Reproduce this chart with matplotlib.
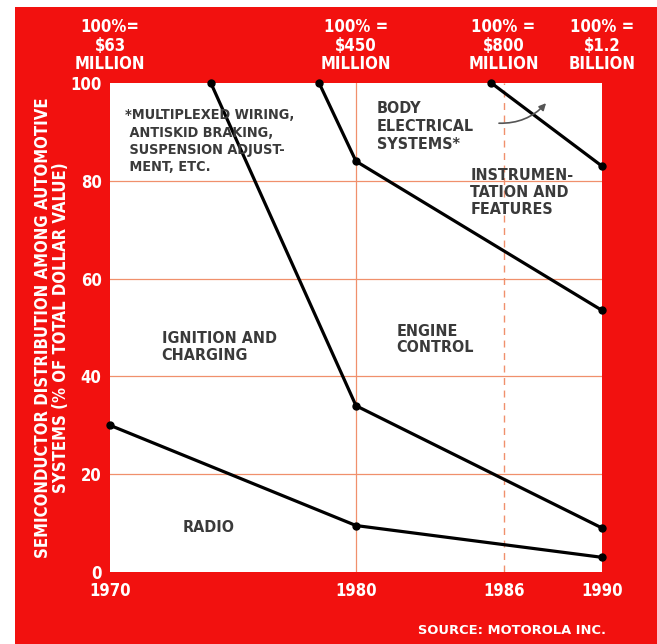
import matplotlib
matplotlib.use("Agg")
from matplotlib import pyplot as plt
from matplotlib.patches import Rectangle

# series values (year, % of total)
radio_years = [1970, 1980, 1990]
radio_pct = [30, 9.5, 3]
ignition_years = [1974.1, 1980, 1990]
ignition_pct = [100, 34, 9]
engine_years = [1978.5, 1980, 1990]
engine_pct = [100, 84, 53.5]
body_years = [1985.5, 1990]
body_pct = [100, 83]

x_ticks = [1970, 1980, 1986, 1990]
y_ticks = [0, 20, 40, 60, 80, 100]
market_years = [1970, 1980, 1986, 1990]
market_labels = ["100%=\n$63\nMILLION", "100% =\n$450\nMILLION",
                 "100% =\n$800\nMILLION", "100% =\n$1.2\nBILLION"]

RED = "#f2110f"
GRID = "#f0906c"
INK = "#3a3a3a"
plt.rcParams["font.family"] = ["DejaVu Sans"]
plt.rcParams["font.stretch"] = "condensed"

fig = plt.figure(figsize=(6.57, 6.44), dpi=100)
fig.patch.set_facecolor("white")
fig.add_artist(Rectangle((15 / 657, 0), 1, 1 - 7 / 644, transform=fig.transFigure,
                         facecolor=RED, edgecolor="none", zorder=0))

ax = fig.add_axes([110 / 657, 72 / 644, 492 / 657, 489 / 644])
ax.set_facecolor("white")
ax.set_xlim(1970, 1990)
ax.set_ylim(0, 100)
for s in ax.spines.values():
    s.set_visible(False)

for y in y_ticks[1:-1]:
    ax.axhline(y, color=GRID, lw=0.9, zorder=1)
ax.axvline(1980, color=GRID, lw=0.9, zorder=1)
ax.axvline(1986, color=GRID, lw=1.0, ls=(0, (5, 4)), zorder=1)

for xs, ys in [(radio_years, radio_pct), (ignition_years, ignition_pct),
               (engine_years, engine_pct), (body_years, body_pct)]:
    ax.plot(xs, ys, color="black", lw=2.3, marker="o", ms=5, zorder=3,
            clip_on=False, solid_capstyle="round")

ax.set_xticks(x_ticks)
ax.set_yticks(y_ticks)
ax.tick_params(length=0, colors="white", labelsize=12)
ax.tick_params(axis="x", pad=7)
ax.tick_params(axis="y", pad=6)
for lab in ax.get_xticklabels() + ax.get_yticklabels():
    lab.set_fontweight("bold")

ax.set_ylabel("SEMICONDUCTOR DISTRIBUTION AMONG AUTOMOTIVE\nSYSTEMS (% OF TOTAL DOLLAR VALUE)",
              color="white", fontsize=12, fontweight="bold", labelpad=0,
              linespacing=1.0)

for yr, txt in zip(market_years, market_labels):
    ax.text(yr, 102.0, txt, ha="center", va="bottom", color="white",
            fontsize=12, fontweight="bold", linespacing=1.05, clip_on=False)

txt_kw = dict(color=INK, fontsize=11.5, fontweight="bold", linespacing=1.15, va="top")
ax.text(1970.6, 94.8, "*MULTIPLEXED WIRING,\n ANTISKID BRAKING,\n SUSPENSION ADJUST-\n MENT, ETC.",
        color=INK, fontsize=10.4, fontweight="bold", linespacing=1.3, va="top")
ax.text(1980.85, 96.4, "BODY\nELECTRICAL\nSYSTEMS*", color=INK, fontsize=11.5,
        fontweight="bold", linespacing=1.25, va="top")
ax.text(1984.65, 82.6, "INSTRUMEN-\nTATION AND\nFEATURES", **txt_kw)
ax.text(1972.1, 49.2, "IGNITION AND\nCHARGING", **txt_kw)
ax.text(1981.65, 50.8, "ENGINE\nCONTROL", **txt_kw)
ax.text(1972.95, 9.0, "RADIO", color=INK, fontsize=11.5, fontweight="bold", va="center")

ax.annotate("", xy=(1987.8, 96.3), xytext=(1985.7, 91.8),
            arrowprops=dict(arrowstyle="-|>", color="#555555", lw=1.2,
                            connectionstyle="arc3,rad=0.25", mutation_scale=10))

fig.text(606 / 657, 1 - 631 / 644, "SOURCE: MOTOROLA INC.", ha="right", va="center",
         color="white", fontsize=9.4, fontweight="bold", fontstretch="normal")

fig.savefig("out.png", dpi=100)
